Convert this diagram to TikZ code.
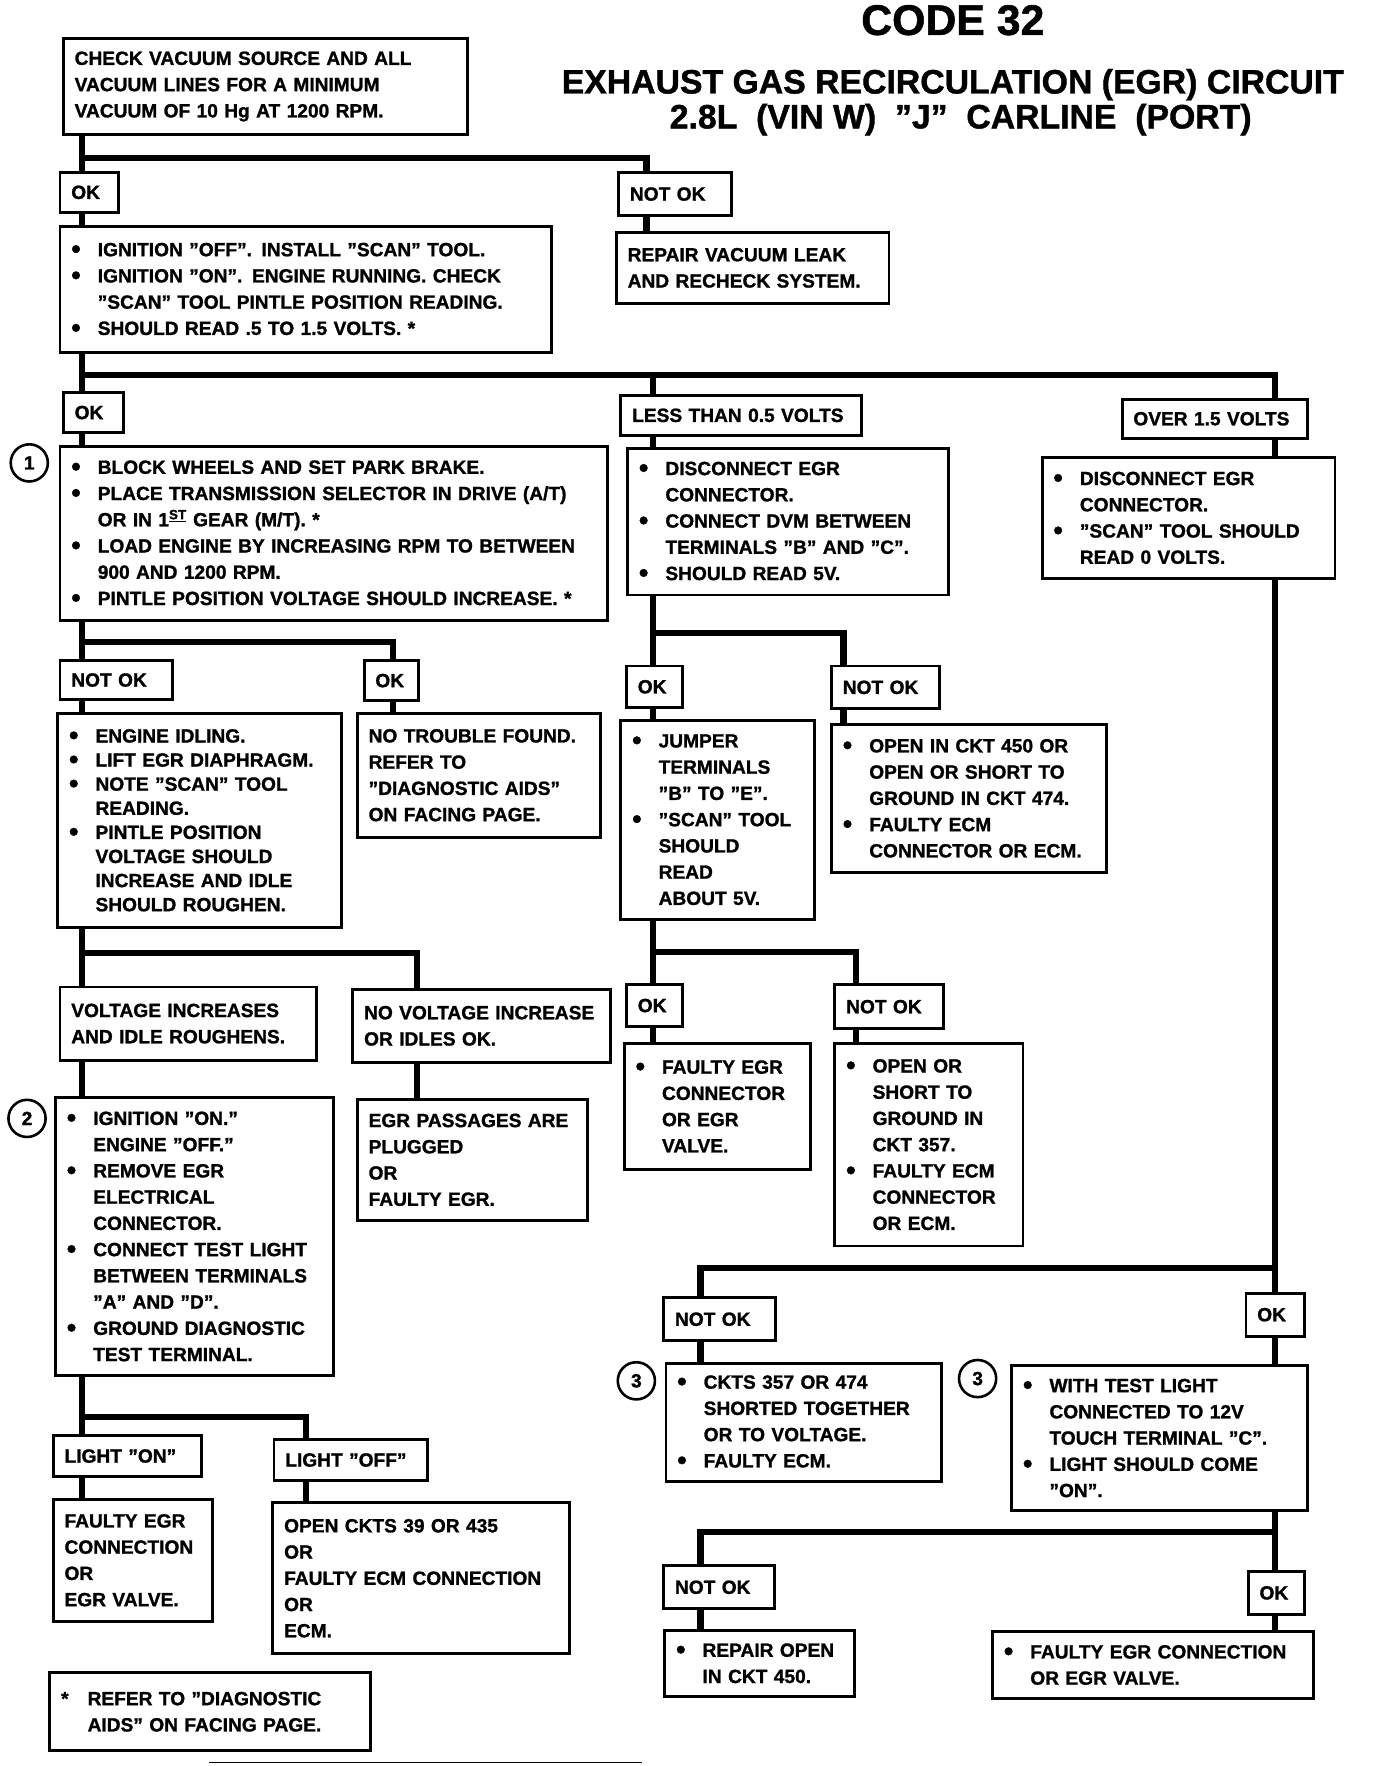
\documentclass[tikz,border=0pt]{standalone}
\usepackage{fontspec}
\setmainfont{Liberation Sans}[BoldFeatures={FakeBold=1.2}]
\newcommand\bl{\makebox[23.5pt][l]{\raisebox{-1.6pt}{\fontsize{24}{0}\selectfont\textbullet}}}
\newcommand\ind{\hspace*{23.5pt}}
\begin{document}
\begin{tikzpicture}[x=1pt,y=-1pt,
  box/.style={draw,line width=2.6pt,anchor=north west,align=left,inner xsep=10pt,inner ysep=0pt,
    font=\bfseries\fontsize{17}{23.3}\selectfont},
  tight/.style={font=\bfseries\fontsize{17}{21.4}\selectfont},
  conn/.style={line width=5.5pt},
  num/.style={draw,circle,line width=2.3pt,minimum size=33pt,inner sep=0pt,font=\bfseries\fontsize{17}{20}\selectfont},
  bigtitle/.style={anchor=base,inner sep=0pt,font=\bfseries\fontsize{38}{40}\selectfont},
  subtitle/.style={anchor=base,inner sep=0pt,font=\bfseries\fontsize{30}{32}\selectfont}]
  \useasboundingbox (0,0) rectangle (1222,1568);

  % title
  \node[bigtitle] (code) at (846,31) {CODE 32};
  \node[subtitle] (egr)  at (846,83) {EXHAUST GAS RECIRCULATION (EGR) CIRCUIT};
  \node[subtitle] (car)  at (853,114) {2.8L\ \ (VIN W)\ \ "J"\ \ CARLINE\ \ (PORT)};

  % trunks
  \coordinate (xL) at (73,0);
  \coordinate (xN) at (574,0);
  \coordinate (xM) at (580,0);
  \coordinate (xG) at (349,0);
  \coordinate (xI) at (749,0);
  \coordinate (xK) at (760,0);
  \coordinate (xV) at (370,0);
  \coordinate (xO) at (272,0);
  \coordinate (xR) at (1132,0);
  \coordinate (xB) at (622,0);

  % first checks
  \node[box,text width=339pt,minimum height=85pt] (chk) at (55,33)
    {CHECK VACUUM SOURCE AND ALL\\VACUUM LINES FOR A MINIMUM\\VACUUM OF 10 Hg AT 1200 RPM.};
  \node[box,text width=32pt,minimum height=35pt] (okA) at (52,152) {OK};
  \node[box,text width=80pt,minimum height=38pt] (nokA) at (548,152) {NOT OK};
  \node[box,text width=222pt,minimum height=63pt] (rep) at (546,205)
    {REPAIR VACUUM LEAK\\AND RECHECK SYSTEM.};
  \node[box,text width=416pt,minimum height=112pt] (scan) at (52,200)
    {\bl IGNITION "OFF". INSTALL "SCAN" TOOL.\\
     \bl IGNITION "ON". ENGINE RUNNING. CHECK\\
     \ind "SCAN" TOOL PINTLE POSITION READING.\\
     \bl SHOULD READ .5 TO 1.5 VOLTS. *};

  % pintle reading
  \node[box,text width=33pt,minimum height=36pt] (okB) at (55,347) {OK};
  \node[box,text width=194pt,minimum height=35pt] (less) at (550,350) {LESS THAN 0.5 VOLTS};
  \node[box,text width=145pt,minimum height=35pt] (over) at (995,353) {OVER 1.5 VOLTS};
  \node[box,text width=466pt,minimum height=155pt] (load) at (52,395)
    {\bl BLOCK WHEELS AND SET PARK BRAKE.\\
     \bl PLACE TRANSMISSION SELECTOR IN DRIVE (A/T)\\
     \ind OR IN 1\textsuperscript{\underline{ST}} GEAR (M/T). *\\
     \bl LOAD ENGINE BY INCREASING RPM TO BETWEEN\\
     \ind 900 AND 1200 RPM.\\
     \bl PINTLE POSITION VOLTAGE SHOULD INCREASE. *};
  \node[num] (c1) at (26,411) {1};
  \node[box,text width=265pt,minimum height=130pt] (dvm) at (556,397)
    {\bl DISCONNECT EGR\\
     \ind CONNECTOR.\\
     \bl CONNECT DVM BETWEEN\\
     \ind TERMINALS "B" AND "C".\\
     \bl SHOULD READ 5V.};
  \node[box,text width=240pt,minimum height=107pt] (zero) at (924,405)
    {\bl DISCONNECT EGR\\
     \ind CONNECTOR.\\
     \bl "SCAN" TOOL SHOULD\\
     \ind READ 0 VOLTS.};

  % load test
  \node[box,text width=80pt,minimum height=35pt] (nokC) at (52,585) {NOT OK};
  \node[box,text width=28pt,minimum height=36pt] (okC) at (322,585) {OK};
  \node[box,tight,text width=232pt,minimum height=190pt] (idle) at (50,632)
    {\bl ENGINE IDLING.\\
     \bl LIFT EGR DIAPHRAGM.\\
     \bl NOTE "SCAN" TOOL\\
     \ind READING.\\
     \bl PINTLE POSITION\\
     \ind VOLTAGE SHOULD\\
     \ind INCREASE AND IDLE\\
     \ind SHOULD ROUGHEN.};
  \node[box,text width=196pt,minimum height=110pt] (ntf) at (316,632)
    {NO TROUBLE FOUND.\\REFER TO\\"DIAGNOSTIC AIDS"\\ON FACING PAGE.};

  % 5 volt reference
  \node[box,text width=30pt,minimum height=37pt] (okD) at (555,590) {OK};
  \node[box,text width=76pt,minimum height=38pt] (nokD) at (737,590) {NOT OK};
  \node[box,text width=152pt,minimum height=177pt] (jmp) at (550,638)
    {\bl JUMPER\\
     \ind TERMINALS\\
     \ind "B" TO "E".\\
     \bl "SCAN" TOOL\\
     \ind SHOULD\\
     \ind READ\\
     \ind ABOUT 5V.};
  \node[box,text width=224pt,minimum height=131pt] (ckt) at (737,642)
    {\bl OPEN IN CKT 450 OR\\
     \ind OPEN OR SHORT TO\\
     \ind GROUND IN CKT 474.\\
     \bl FAULTY ECM\\
     \ind CONNECTOR OR ECM.};

  \node[box,text width=30pt,minimum height=37pt] (okH) at (555,873) {OK};
  \node[box,text width=76pt,minimum height=39pt] (nokH) at (740,873) {NOT OK};
  \node[box,text width=145pt,minimum height=112pt] (conA) at (553,925)
    {\bl FAULTY EGR\\
     \ind CONNECTOR\\
     \ind OR EGR\\
     \ind VALVE.};
  \node[box,text width=147pt,minimum height=180pt] (gnd) at (740,925)
    {\bl OPEN OR\\
     \ind SHORT TO\\
     \ind GROUND IN\\
     \ind CKT 357.\\
     \bl FAULTY ECM\\
     \ind CONNECTOR\\
     \ind OR ECM.};

  % idle test
  \node[box,text width=208pt,minimum height=65pt] (vinc) at (52,875)
    {VOLTAGE INCREASES\\AND IDLE ROUGHENS.};
  \node[box,text width=209pt,minimum height=65pt] (nvinc) at (312,877)
    {NO VOLTAGE INCREASE\\OR IDLES OK.};
  \node[box,text width=227pt,minimum height=247pt] (lamp) at (48,973)
    {\bl IGNITION "ON."\\
     \ind ENGINE "OFF."\\
     \bl REMOVE EGR\\
     \ind ELECTRICAL\\
     \ind CONNECTOR.\\
     \bl CONNECT TEST LIGHT\\
     \ind BETWEEN TERMINALS\\
     \ind "A" AND "D".\\
     \bl GROUND DIAGNOSTIC\\
     \ind TEST TERMINAL.};
  \node[num] (c2) at (24,993) {2};
  \node[box,text width=184pt,minimum height=107pt] (plug) at (316,975)
    {EGR PASSAGES ARE\\PLUGGED\\OR\\FAULTY EGR.};

  \node[box,text width=112pt,minimum height=37pt] (lon) at (46,1273) {LIGHT "ON"};
  \node[box,text width=116pt,minimum height=36pt] (loff) at (242,1277) {LIGHT "OFF"};
  \node[box,text width=121pt,minimum height=108pt] (conB) at (46,1330)
    {FAULTY EGR\\CONNECTION\\OR\\EGR VALVE.};
  \node[box,text width=243pt,minimum height=134pt] (opn) at (241,1333)
    {OPEN CKTS 39 OR 435\\OR\\FAULTY ECM CONNECTION\\OR\\ECM.};
  \node[box,text width=265pt,minimum height=69pt] (note) at (43,1484)
    {\makebox[23.5pt][l]{*}REFER TO "DIAGNOSTIC\\
     \ind AIDS" ON FACING PAGE.};

  % zero volts
  \node[box,text width=79pt,minimum height=38pt] (nokP) at (588,1151) {NOT OK};
  \node[box,text width=32pt,minimum height=38pt] (okQ) at (1105,1147) {OK};
  \node[box,text width=225pt,minimum height=105pt] (shrt) at (590,1209)
    {\bl CKTS 357 OR 474\\
     \ind SHORTED TOGETHER\\
     \ind OR TO VOLTAGE.\\
     \bl FAULTY ECM.};
  \node[num] (c3) at (565,1226) {3};
  \node[box,text width=243pt,minimum height=129pt] (tl) at (897,1211)
    {\bl WITH TEST LIGHT\\
     \ind CONNECTED TO 12V\\
     \ind TOUCH TERMINAL "C".\\
     \bl LIGHT SHOULD COME\\
     \ind "ON".};
  \node[num] (c4) at (868,1224) {3};
  \node[box,text width=78pt,minimum height=38pt] (nokR) at (588,1389) {NOT OK};
  \node[box,text width=30pt,minimum height=38pt] (okS) at (1107,1394) {OK};
  \node[box,text width=148pt,minimum height=59pt] (fix) at (589,1446)
    {\bl REPAIR OPEN\\
     \ind IN CKT 450.};
  \node[box,text width=265pt,minimum height=60pt] (valve) at (880,1447)
    {\bl FAULTY EGR CONNECTION\\
     \ind OR EGR VALVE.};

  % connectors
  \draw[conn] (chk.south -| xL) -- (okA.north -| xL);
  \draw[conn] (73,140) -| (nokA.north -| xN);
  \draw[conn] (okA.south -| xL) -- (scan.north -| xL);
  \draw[conn] (nokA.south -| xN) -- (rep.north -| xN);

  \draw[conn] (scan.south -| xL) -- (okB.north -| xL);
  \draw[conn] (73,333) -| (over.north -| xR);
  \draw[conn] (xM |- 0,333) -- (less.north -| xM);
  \draw[conn] (okB.south -| xL) -- (load.north -| xL);
  \draw[conn] (less.south -| xM) -- (dvm.north -| xM);
  \draw[conn] (over.south -| xR) -- (zero.north -| xR);

  \draw[conn] (load.south -| xL) -- (nokC.north -| xL);
  \draw[conn] (73,570) -| (okC.north -| xG);
  \draw[conn] (nokC.south -| xL) -- (idle.north -| xL);
  \draw[conn] (okC.south -| xG) -- (ntf.north -| xG);

  \draw[conn] (dvm.south -| xM) -- (okD.north -| xM);
  \draw[conn] (580,562) -| (nokD.north -| xI);
  \draw[conn] (okD.south -| xM) -- (jmp.north -| xM);
  \draw[conn] (nokD.south -| xI) -- (ckt.north -| xI);

  \draw[conn] (jmp.south -| xM) -- (okH.north -| xM);
  \draw[conn] (580,845) -| (nokH.north -| xK);
  \draw[conn] (okH.south -| xM) -- (conA.north -| xM);
  \draw[conn] (nokH.south -| xK) -- (gnd.north -| xK);

  \draw[conn] (idle.south -| xL) -- (vinc.north -| xL);
  \draw[conn] (73,846) -| (nvinc.north -| xV);
  \draw[conn] (vinc.south -| xL) -- (lamp.north -| xL);
  \draw[conn] (nvinc.south -| xV) -- (plug.north -| xV);

  \draw[conn] (lamp.south -| xL) -- (lon.north -| xL);
  \draw[conn] (73,1258) -| (loff.north -| xO);
  \draw[conn] (lon.south -| xL) -- (conB.north -| xL);
  \draw[conn] (loff.south -| xO) -- (opn.north -| xO);

  \draw[conn] (zero.south -| xR) -- (okQ.north -| xR);
  \draw[conn] (1132,1126) -| (nokP.north -| xB);
  \draw[conn] (nokP.south -| xB) -- (shrt.north -| xB);
  \draw[conn] (okQ.south -| xR) -- (tl.north -| xR);
  \draw[conn] (tl.south -| xR) -- (okS.north -| xR);
  \draw[conn] (1132,1360) -| (nokR.north -| xB);
  \draw[conn] (nokR.south -| xB) -- (fix.north -| xB);
  \draw[conn] (okS.south -| xR) -- (valve.north -| xR);

  % edge of the sheet
  \draw[line width=1.5pt] (186,1565) -- (570,1565);
\end{tikzpicture}
\end{document}
